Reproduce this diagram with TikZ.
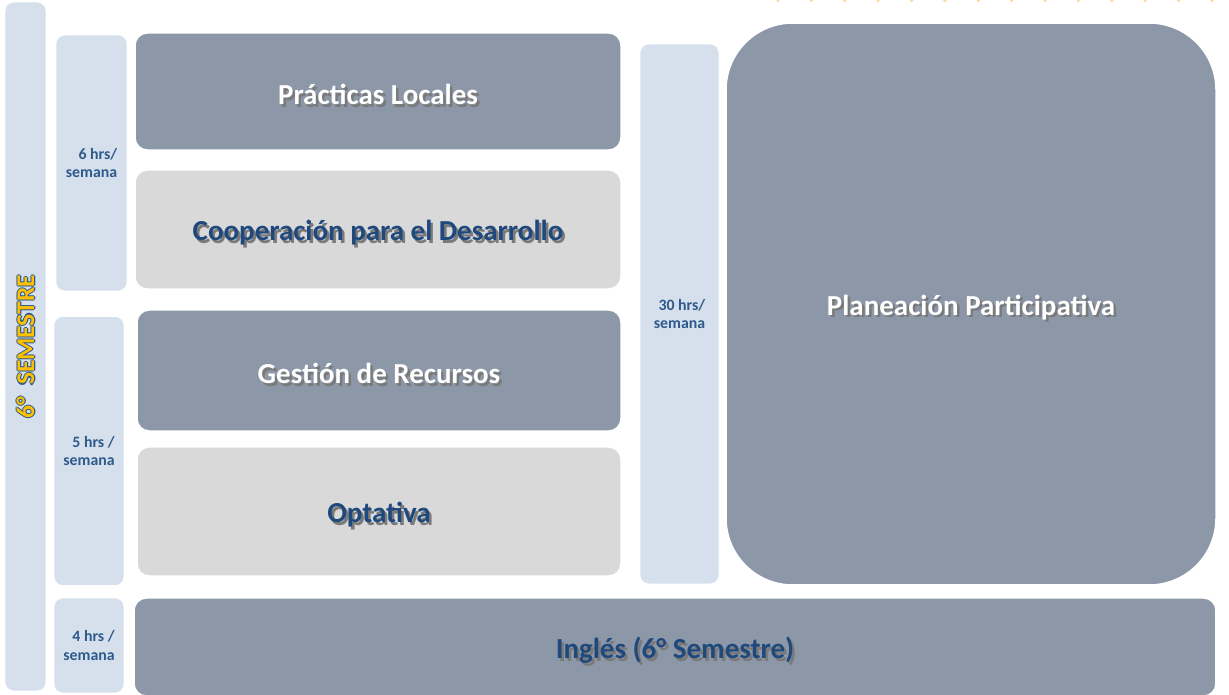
\documentclass[tikz,border=0pt]{standalone}
\usepackage{fontspec}
\setmainfont{Carlito}

\definecolor{panelblue}{HTML}{D5E0EC}
\definecolor{slate}{HTML}{8C97A8}
\definecolor{softgray}{HTML}{D9D9D9}
\definecolor{textblue}{HTML}{1F497D}
\definecolor{labelblue}{HTML}{2E5A8C}
\definecolor{shadowgray}{HTML}{7A7A7A}
\definecolor{gold}{HTML}{FFC000}
\definecolor{dotorange}{HTML}{FBD7A4}

% text with a small drop shadow
\newcommand{\shadowed}[2]{\raisebox{-2.6pt}[\height][\depth]{\rlap{\kern1.4pt\raisebox{-1.4pt}{\color{shadowgray}#2}}{\color{#1}#2}}}
% gold text with a blue outline
\newcommand{\outlined}[1]{\leavevmode%
  \rlap{\kern-0.6pt{\color{labelblue}#1}}%
  \rlap{\kern0.6pt{\color{labelblue}#1}}%
  \rlap{\raisebox{0.6pt}{\color{labelblue}#1}}%
  \rlap{\raisebox{-0.6pt}{\color{labelblue}#1}}%
  {\color{gold}#1}}

\begin{document}
\begin{tikzpicture}[
    x=0.02cm, y=-0.02cm,
    panel/.style={
        fill=panelblue,
        draw=white,
        rounded corners=5pt,
        align=right,
        text=labelblue,
        font=\fontsize{9}{10.5}\selectfont\bfseries
    },
    course/.style={
        draw=white,
        line width=0.8pt,
        rounded corners=7pt,
        font=\fontsize{16.5}{19}\selectfont\bfseries
    },
    darkcourse/.style={course, fill=slate},
    lightcourse/.style={course, fill=softgray}
]
\useasboundingbox (0,0) rectangle (1229,695);

% dotted edge at the top
\draw[dotorange, line width=2pt, line cap=round, dash pattern=on 0pt off 19pt] (778,0.5) -- (1229,0.5);

% Semester column
\node[panel, rotate=90, minimum width=13.78cm, minimum height=0.82cm, font=\fontsize{14.5}{16}\selectfont\bfseries]
    (sem) at (25.5,346.5) {\outlined{6°\ \ SEMESTRE}};

% Hours per week
\node[panel, minimum width=1.42cm, minimum height=5.12cm] (h6) at (91.5,163) {6 hrs/\\semana};
\node[panel, minimum width=1.40cm, minimum height=5.38cm] (h5) at (89,451) {5 hrs /\\semana};
\node[panel, minimum width=1.40cm, minimum height=1.90cm] (h4) at (89,645.5) {4 hrs /\\semana};
\node[panel, minimum width=1.58cm, minimum height=10.80cm] (h30) at (679.5,314) {30 hrs/\\semana};

% Courses, first block
\node[darkcourse, minimum width=9.72cm, minimum height=2.34cm] (practicas) at (378,91.5) {\shadowed{white}{Prácticas Locales}};
\node[lightcourse, minimum width=9.72cm, minimum height=2.38cm] (coop) at (378,229.5) {\shadowed{textblue}{Cooperación para el Desarrollo}};

% Courses, second block
\node[darkcourse, minimum width=9.68cm, minimum height=2.42cm] (gestion) at (379,370.5) {\shadowed{white}{Gestión de Recursos}};
\node[lightcourse, minimum width=9.68cm, minimum height=2.58cm] (optativa) at (379,511.5) {\shadowed{textblue}{Optativa}};

% Big course on the right
\node[darkcourse, rounded corners=38pt, minimum width=9.80cm, minimum height=11.24cm] (planeacion) at (971,304) {\shadowed{white}{Planeación Participativa}};

% Bottom row
\node[darkcourse, minimum width=21.64cm, minimum height=1.96cm] (ingles) at (675,647) {\shadowed{textblue}{Inglés (6° Semestre)}};

\end{tikzpicture}
\end{document}
